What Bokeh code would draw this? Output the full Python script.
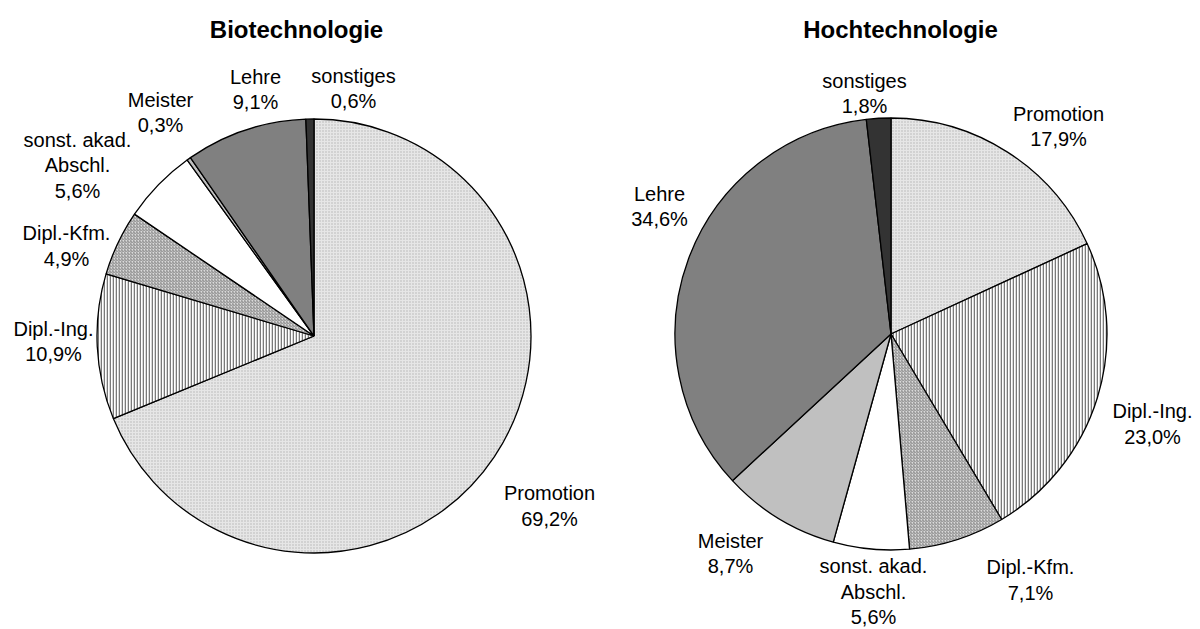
import math
from bokeh.plotting import figure
from bokeh.models import ColumnDataSource, Range1d
from bokeh.core.properties import value
from bokeh.embed import file_html
from bokeh.resources import INLINE

# ---------------- data ----------------
categories = ["Promotion", "Dipl.-Ing.", "Dipl.-Kfm.", "sonst. akad.\nAbschl.",
              "Meister", "Lehre", "sonstiges"]
bio_values = [69.2, 10.9, 4.9, 5.6, 0.3, 9.1, 0.6]
hoch_values = [17.9, 23.0, 7.1, 5.6, 8.7, 34.6, 1.8]
titles = ["Biotechnologie", "Hochtechnologie"]

# ---------------- styles ----------------
fills = ["#e6e6e6", "#ffffff", "#dadada", "#ffffff", "#c0c0c0", "#808080", "#333333"]
hatch_patterns = [".", "|", "/", " ", " ", " ", " "]
hatch_colors = ["#b4b4b4", "#7a7a7a", "#8a8a8a", "#000000", "#000000", "#000000", "#000000"]
hatch_scales = [3, 3, 3, 3, 3, 3, 3]
hatch_weights = [1, 1.6, 1, 1, 1, 1, 1]
FONT = "Liberation Sans"

# ---------------- layout (page pixels) ----------------
W, H = 1200, 629
def X(x):
    return x
def Y(y):
    return H - y

pies = [
    dict(values=bio_values, title=titles[0], cx=313.5, cy=335.5, r=217, title_x=296,
         label_offsets=[(235.5, 157.2), (-260.5, -7.2), (-247.5, -102.8), (-236.5, -196.5),
                        (-153.5, -236.2), (-58.5, -259.5), (39.5, -260.5)]),
    dict(values=hoch_values, title=titles[1], cx=890.5, cy=333.5, r=216, title_x=900,
         label_offsets=[(167.5, -220.2), (261.5, 77.2), (139.5, 233.2), (-17.5, 232.0),
                        (-160.5, 206.5), (-231.5, -140.2), (-26.5, -253.5)]),
]
TITLE_BASELINE = 29.3
LINE_STEP = 25.5

p = figure(width=W, height=H, x_range=Range1d(0, W), y_range=Range1d(0, H),
           output_backend="svg", toolbar_location=None,
           x_axis_type=None, y_axis_type=None, min_border=0)
p.outline_line_color = None
p.background_fill_color = "white"
p.border_fill_color = "white"

for pie in pies:
    vals = pie["values"]
    total = sum(vals)
    cum = 0.0
    starts, ends = [], []
    for v in vals:
        a0 = math.pi / 2 - 2 * math.pi * cum / total
        cum += v
        a1 = math.pi / 2 - 2 * math.pi * cum / total
        # anticlockwise from a1 to a0 == clockwise slice from top
        starts.append(a1)
        ends.append(a0)
    src = ColumnDataSource(dict(
        x=[X(pie["cx"])] * len(vals), y=[Y(pie["cy"])] * len(vals),
        start=starts, end=ends, fill=fills, hatch=hatch_patterns,
        hcol=hatch_colors, hscale=hatch_scales, hweight=hatch_weights))
    p.wedge(x="x", y="y", radius=pie["r"], start_angle="start", end_angle="end",
            source=src, fill_color="fill", hatch_pattern="hatch", hatch_color="hcol",
            hatch_scale="hscale", hatch_weight="hweight", line_color="black", line_width=1.3)

    # labels
    lx, ly, lt = [], [], []
    for name, v, (dx, dy) in zip(categories, vals, pie["label_offsets"]):
        pct = f"{v:.1f}".replace(".", ",") + "%"
        lines = name.split("\n") + [pct]
        for i, line in enumerate(lines):
            lx.append(X(pie["cx"] + dx))
            ly.append(Y(pie["cy"] + dy + i * LINE_STEP))
            lt.append(line)
    p.text(x=lx, y=ly, text=lt, text_font=value(FONT), text_font_size="20px",
           text_align="center", text_baseline="alphabetic", text_color="black")

    p.text(x=[X(pie["title_x"])], y=[Y(TITLE_BASELINE)], text=[pie["title"]],
           text_font=value(FONT), text_font_size="24px", text_font_style="bold",
           text_align="center", text_baseline="alphabetic", text_color="black")

open("out.html", "w").write(file_html(p, INLINE))
